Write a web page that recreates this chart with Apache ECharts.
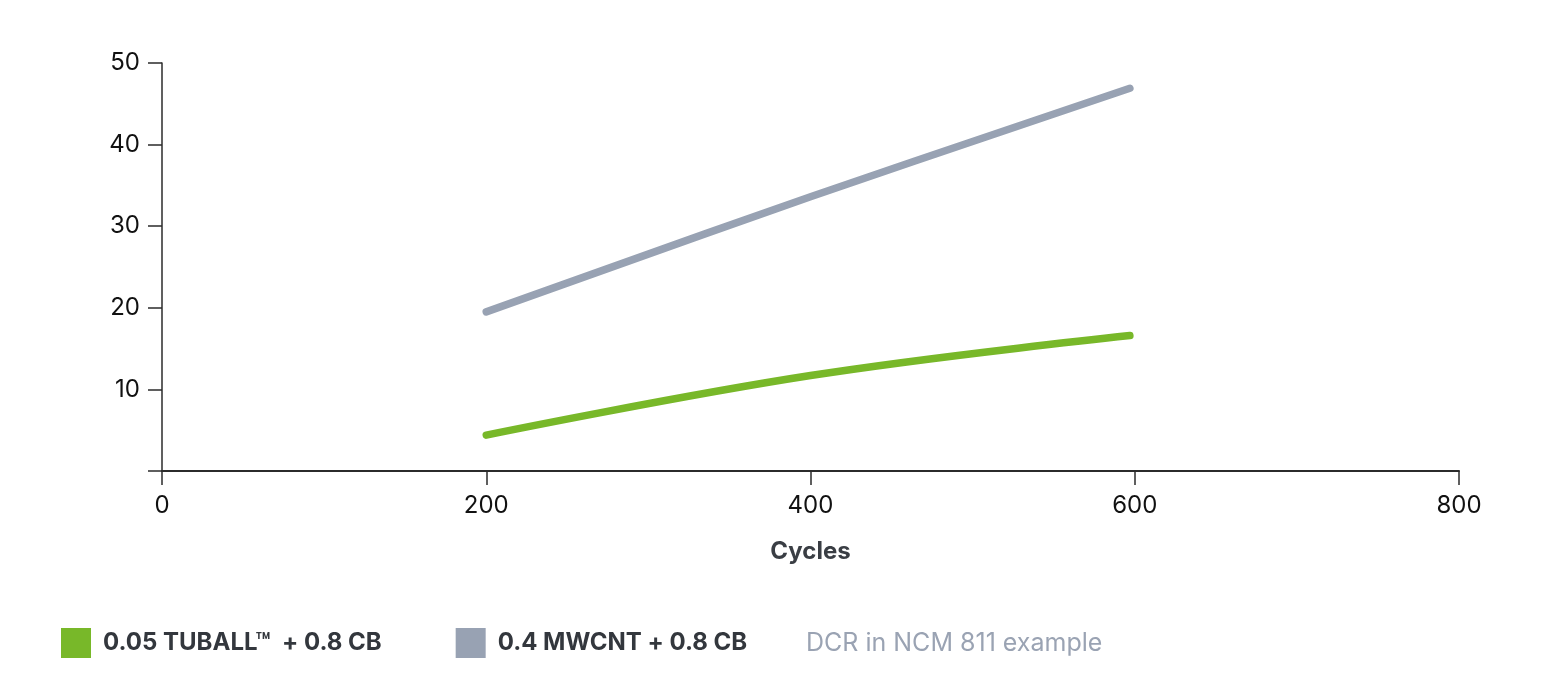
<!DOCTYPE html>
<html>
<head>
<meta charset="utf-8">
<script src="https://cdn.jsdelivr.net/npm/echarts@6/dist/echarts.min.js"></script>
<style>
html,body{margin:0;padding:0;background:#fff;}
#chart{width:1552px;height:698px;}
</style>
</head>
<body>
<div id="chart"></div>
<script>
const seriesNames = ['0.05 TUBALL\u2122  + 0.8 CB', '0.4 MWCNT + 0.8 CB'];
const cycles = [200, 400, 597];
const tuballValues = [4.4, 11.7, 16.6];
const mwcntValues = [19.5, 33.6, 46.9];
const xTicks = [0, 200, 400, 600, 800];
const yTicks = [0, 10, 20, 30, 40, 50];
const noteText = 'DCR in NCM 811 example';
const xAxisName = 'Cycles';

const FONT = 'Inter, Roboto, sans-serif';
const colors = ['#78b829', '#98a2b3'];

const chart = echarts.init(document.getElementById('chart'), null, {renderer: 'canvas'});
chart.setOption({
  animation: false,
  grid: {left: 162, right: 93, top: 63, bottom: 227},
  xAxis: {
    type: 'value',
    min: xTicks[0], max: xTicks[xTicks.length - 1], interval: 200,
    name: xAxisName, nameLocation: 'middle', nameGap: 69,
    nameTextStyle: {fontFamily: FONT, fontWeight: 'bold', fontSize: 24, color: '#3a3e44'},
    axisLine: {lineStyle: {color: '#2b2b2b', width: 2}},
    axisTick: {show: true, length: 14, lineStyle: {color: '#2b2b2b', width: 1.5}},
    axisLabel: {fontFamily: FONT, fontSize: 24, color: '#111', margin: 23},
    splitLine: {show: false}
  },
  yAxis: {
    type: 'value',
    min: yTicks[0], max: yTicks[yTicks.length - 1], interval: 10,
    axisLine: {show: true, lineStyle: {color: '#2b2b2b', width: 1.5}},
    axisTick: {show: true, length: 14, lineStyle: {color: '#2b2b2b', width: 1.5}},
    axisLabel: {fontFamily: FONT, fontSize: 24, color: '#111', margin: 22,
      formatter: v => v === 0 ? '' : String(v)},
    splitLine: {show: false}
  },
  legend: {
    left: 56, top: 623,
    itemWidth: 30, itemHeight: 30, itemGap: 74,
    icon: 'rect',
    data: seriesNames,
    textStyle: {fontFamily: FONT, fontWeight: 'bold', fontSize: 24, color: '#33373d', padding: [0, 0, 0, 7]}
  },
  graphic: [{
    type: 'text', left: 806, top: 631,
    style: {text: noteText, font: '25px ' + FONT, fill: '#9aa3b3'}
  }],
  series: [
    {name: seriesNames[0], type: 'line', smooth: 0.4, symbol: 'none',
     data: cycles.map((c, i) => [c, tuballValues[i]]),
     itemStyle: {color: colors[0]},
     lineStyle: {width: 7.5, color: colors[0], cap: 'round', join: 'round'}},
    {name: seriesNames[1], type: 'line', smooth: 0.4, symbol: 'none',
     data: cycles.map((c, i) => [c, mwcntValues[i]]),
     itemStyle: {color: colors[1]},
     lineStyle: {width: 7.5, color: colors[1], cap: 'round', join: 'round'}}
  ]
});
</script>
</body>
</html>
